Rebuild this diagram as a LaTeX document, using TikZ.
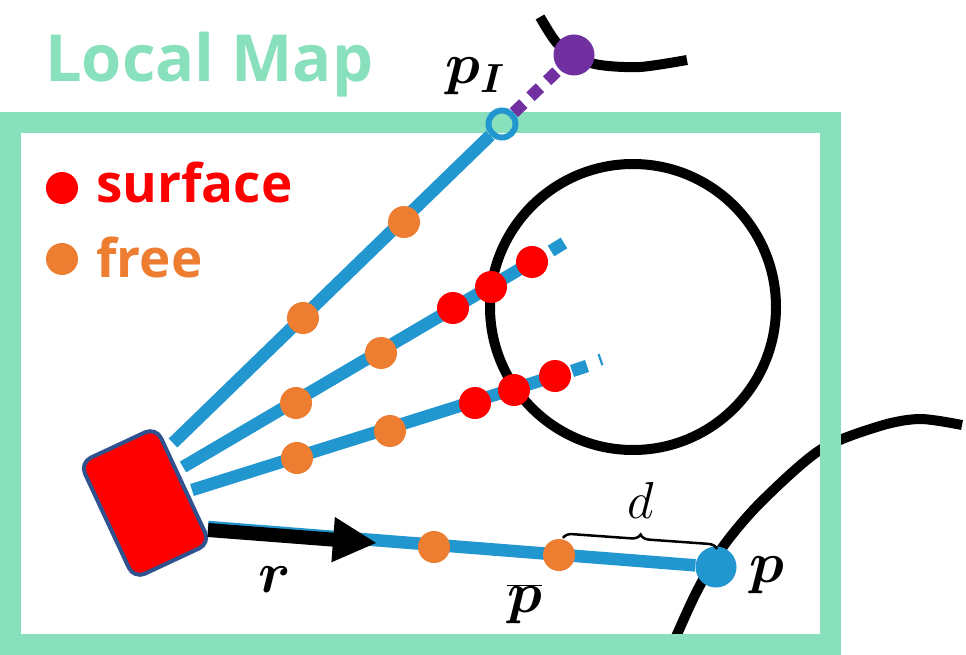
\RequirePackage{fix-cm}
\documentclass[tikz,border=0pt]{standalone}
\usepackage{fontspec}
\usepackage{bm}
\setsansfont{Open Sans}
\usetikzlibrary{arrows.meta,decorations.pathreplacing}
\definecolor{mapgreen}{RGB}{137,224,188}
\definecolor{rayblue}{RGB}{34,150,207}
\definecolor{dotorange}{RGB}{237,125,49}
\definecolor{ptpurple}{RGB}{112,48,160}
\definecolor{robotedge}{RGB}{47,82,143}
\begin{document}
\begin{tikzpicture}[x=1pt,y=-1pt,
  ray/.style={rayblue,line width=12.5pt},
  freedot/.style={circle,fill=dotorange,inner sep=0pt,minimum size=32pt},
  surfdot/.style={circle,fill=red,inner sep=0pt,minimum size=32pt},
  obstacle/.style={black,line width=10pt},
  mathlbl/.style={font=\fontsize{58}{60}\selectfont,inner sep=0pt,anchor=base west},
  legendtxt/.style={font=\sffamily\bfseries\fontsize{53}{56}\selectfont,inner sep=0pt,anchor=base west}
]
\useasboundingbox (0,0) rectangle (966,655);
\fill[white] (0,0) rectangle (966,655);

% obstacles
\draw[obstacle] plot[smooth] coordinates {(540,17) (556,42) (575,57) (600,65) (640,67) (687,60)};
\draw[obstacle] plot[smooth] coordinates {(668,655) (695,595) (722,548) (760,503) (820,450) (880,426) (920,419) (962,425)};
\draw[obstacle] (633,307) circle[radius=143];

% local map frame
\draw[mapgreen,line width=21pt] (10.5,123) rectangle (830.5,644);
\node[font=\sffamily\bfseries\fontsize{65}{68}\selectfont,text=mapgreen,inner sep=0pt,anchor=base west] (title) at (45,82) {Local Map};

% legend
\node[surfdot] (legsurf) at (62,188) {};
\node[legendtxt,text=red] (legsurftxt) at (96,203) {surface};
\node[freedot] (legfree) at (62,259) {};
\node[legendtxt,text=dotorange] (legfreetxt) at (96,277) {free};

% ray origins
\coordinate (o1) at (173,443);
\coordinate (o2) at (183,467);
\coordinate (o3) at (192,490);
\coordinate (o4) at (208,527);

% points
\node[circle,draw=rayblue,line width=6pt,minimum size=27pt,inner sep=0pt] (pI) at (502,124) {};
\node[circle,fill=ptpurple,inner sep=0pt,minimum size=41pt] (pint) at (574,55) {};
\node[circle,fill=rayblue,inner sep=0pt,minimum size=41pt] (p) at (716,567) {};

% rays
\draw[ptpurple,line width=12pt,dash pattern=on 13pt off 10pt] (pI) -- (pint);
\draw[ray] (o1) -- (pI);
\draw[ray] (o2) -- (532,262);
\coordinate (d2a) at (551,251);
\coordinate (d2b) at (564,243);
\draw[ray] (d2a) -- (d2b);
\draw[ray] (o3) -- (555,376);
\coordinate (d3a) at (572,371);
\coordinate (d3b) at (587,366);
\draw[ray] (d3a) -- (d3b);
\coordinate (d3c) at (599.5,360);
\coordinate (d3d) at (601.5,359.3);
\draw[rayblue,line width=12pt] (d3c) -- (d3d);
\draw[ray] (o4) -- (p);

% dots
\node[freedot] (f11) at (404,222) {};
\node[freedot] (f12) at (303,318) {};
\node[freedot] (f21) at (296,403) {};
\node[freedot] (f22) at (381,353) {};
\node[surfdot] (s21) at (453,308) {};
\node[surfdot] (s22) at (491,287) {};
\node[surfdot] (s23) at (532,262) {};
\node[freedot] (f31) at (297,458) {};
\node[freedot] (f32) at (390,431) {};
\node[surfdot] (s31) at (475,403) {};
\node[surfdot] (s32) at (514,390) {};
\node[surfdot] (s33) at (555,376) {};
\node[freedot] (f41) at (434,547) {};
\node[freedot] (f42) at (559,555) {};

% robot
\node[draw=robotedge,fill=red,line width=4pt,rounded corners=12pt,minimum width=84pt,minimum height=128pt,rotate=25] (robot) at (145,503) {};

% heading arrow
\coordinate (rtip) at (377,543);
\draw[black,line width=14pt,-{Triangle[length=44pt,width=42pt]}] (o4) ++(0,3) -- (rtip);

% brace
\coordinate (bra) at (563,538);
\coordinate (brb) at (717,549);
\draw[decorate,decoration={brace,amplitude=9pt},line width=2.5pt] (bra) -- (brb);

% labels
\node[mathlbl] (lpI) at (445,84) {$\bm{p_I}$};
\node[mathlbl] (lr) at (258,592) {$\bm{r}$};
\node[mathlbl] (lpbar) at (507,612) {$\overline{\bm{p}}$};
\node[mathlbl] (lp) at (749,582) {$\bm{p}$};
\node[mathlbl,font=\fontsize{52}{54}\selectfont] (ld) at (627,518) {$d$};
\end{tikzpicture}
\end{document}
